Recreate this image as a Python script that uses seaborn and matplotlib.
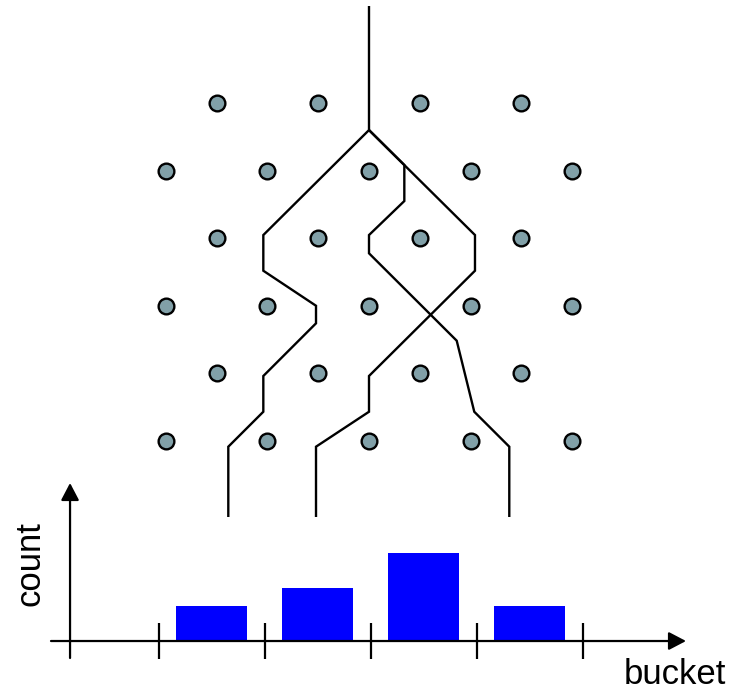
import matplotlib
matplotlib.use("Agg")
import matplotlib.pyplot as plt
import seaborn as sns
import pandas as pd

# peg board: x in peg spacings from the centre, y in rows from the top
pegs_x_short = [-1.5, -0.5, 0.5, 1.5]
pegs_x_long = [-2, -1, 0, 1, 2]
rows_short = [0, 2, 4]
rows_long = [1, 3, 5]

# three ball paths (same units)
path_a_x = [0, 0, -1.041, -1.041, -0.522, -0.522, -1.041, -1.041, -1.386, -1.386]
path_a_y = [-1.435, 0.40, 1.953, 2.481, 2.999, 3.259, 4.038, 4.567, 5.084, 6.124]
path_b_x = [0, 0.348, 0.348, 0, 0, 0.864, 1.037, 1.382, 1.382]
path_b_y = [0.40, 0.917, 1.450, 1.953, 2.223, 3.516, 4.567, 5.084, 6.124]
path_c_x = [0, 1.044, 1.044, 0, 0, -0.522, -0.522]
path_c_y = [0.40, 1.953, 2.481, 4.038, 4.567, 5.084, 6.124]

# histogram of where the balls ended up
buckets = ["1", "2", "3", "4"]
counts = [2, 3, 5, 2]

sns.set_style("white")
plt.rcParams["font.family"] = ["Liberation Sans", "DejaVu Sans"]
plt.rcParams["text.color"] = "black"

W, H = 738, 691
fig = plt.figure(figsize=(W / 100, H / 100), dpi=100)

# board
ax1 = fig.add_axes([0, 0, 1, 1])
ax1.set_facecolor("none")
pegs = pd.DataFrame(
    [(x, r) for r in rows_short for x in pegs_x_short]
    + [(x, r) for r in rows_long for x in pegs_x_long],
    columns=["x", "y"],
)
sns.scatterplot(data=pegs, x="x", y="y", s=128, color="#81a0a8",
                edgecolor="black", linewidth=1.7, ax=ax1, zorder=3)
for px, py in [(path_a_x, path_a_y), (path_b_x, path_b_y), (path_c_x, path_c_y)]:
    ax1.plot(px, py, color="black", lw=1.7, solid_joinstyle="miter",
             solid_capstyle="butt", zorder=2)
ax1.set_xlim(-3.635, 3.635)
ax1.set_ylim(8.698, -1.524)
ax1.axis("off")

# histogram axes, placed in pixel terms
left, right, top, bottom = 51, 686, 483, 658
ax2 = fig.add_axes([left / W, 1 - bottom / H, (right - left) / W, (bottom - top) / H])
ax2.set_facecolor("none")
sns.barplot(x=buckets, y=counts, color="#0000ff", saturation=1, width=0.67,
            edgecolor="none", linewidth=0, ax=ax2, zorder=1)
ax2.set_xlim(-1.5135, 4.473)
ax2.set_ylim(-0.96, 8.93)
for s in ax2.spines.values():
    s.set_visible(False)
ax2.spines["bottom"].set_position(("data", 0))
ax2.set_xticks([-0.5, 0.5, 1.5, 2.5, 3.5])
ax2.set_xticklabels([])
ax2.set_yticks([])
ax2.tick_params(axis="x", direction="inout", length=26, width=1.6,
                color="black", bottom=True)
ax2.set_xlabel("")
ax2.set_ylabel("")

arrow = dict(arrowstyle="-|>,head_length=1.05,head_width=0.55", mutation_scale=10,
             color="black", lw=1.6, shrinkA=0, shrinkB=0)
ax2.annotate("", xy=(4.473, 0), xytext=(-1.5135, 0), arrowprops=arrow,
             annotation_clip=False)
ax2.annotate("", xy=(-1.334, 8.93), xytext=(-1.334, -0.96), arrowprops=arrow,
             annotation_clip=False)

fig.text(624 / W, 1 - 684 / H, "bucket", ha="left", va="baseline", fontsize=25,
         color="black")
fig.text(30 / W, 1 - 564 / H, "count", ha="center", va="center",
         rotation=90, fontsize=25, color="black")

fig.savefig("out.png", dpi=100)
